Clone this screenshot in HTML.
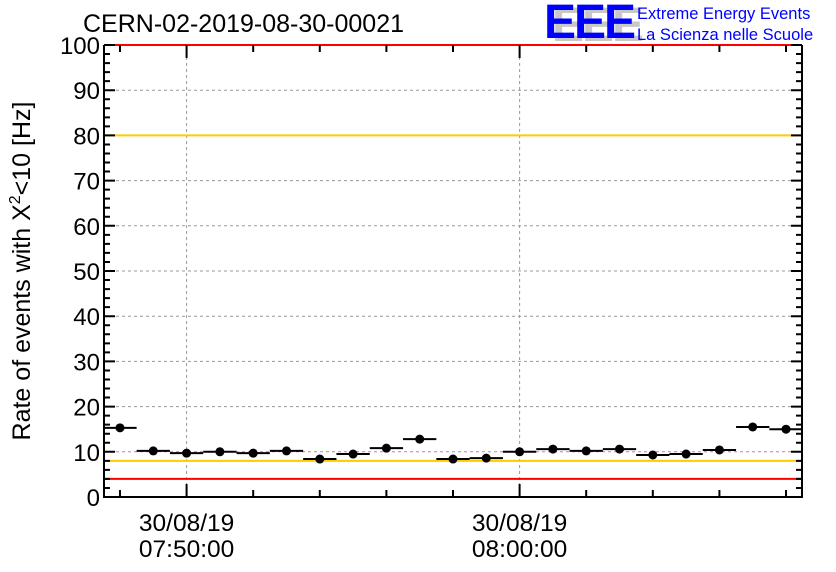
<!DOCTYPE html>
<html><head><meta charset="utf-8"><style>
body{margin:0;background:#fff;}
svg{display:block;font-family:"Liberation Sans",sans-serif;}
</style></head><body>
<svg id="c" width="836" height="572" viewBox="0 0 836 572">
<text x="83" y="32" font-size="25" fill="#000">CERN-02-2019-08-30-00021</text>
<g>
<text x="552" y="41" font-size="48" font-weight="bold" fill="#c8c8c8" letter-spacing="-2">EEE</text>
<text x="544" y="38" font-size="48" font-weight="bold" fill="#0000ff" letter-spacing="-2">EEE</text>
<text x="637" y="19" font-size="16.5" fill="#0000ff">Extreme Energy Events</text>
<text x="637" y="40" font-size="16.5" fill="#0000ff">La Scienza nelle Scuole</text>
</g>
<text transform="translate(30,271) rotate(-90)" text-anchor="middle" font-size="25" fill="#000">Rate of events with X<tspan dy="-10" font-size="16">2</tspan><tspan dy="10">&lt;10 [Hz]</tspan></text>
<g id="grid"></g><g id="lines"></g><g id="axes"></g><g id="marks"></g>
</svg>
<script>
const minutes=[48,49,50,51,52,53,54,55,56,57,58,59,60,61,62,63,64,65,66,67,68];
const rates=[15.3,10.2,9.7,10.0,9.7,10.2,8.4,9.5,10.8,12.8,8.4,8.6,10.0,10.6,10.2,10.6,9.3,9.5,10.4,15.5,15.0];
const yTicks=[0,10,20,30,40,50,60,70,80,90,100];
const xLabels=[{m:50,d:"30/08/19",t:"07:50:00"},{m:60,d:"30/08/19",t:"08:00:00"}];
const refLines=[{v:100,c:"#ff0000"},{v:80,c:"#ffcc00"},{v:8,c:"#ffcc00"},{v:4,c:"#ff0000"}];
const L=104,R=802,T=45,B=497;
const m0=47.52,m1=68.48;
const X=m=>L+(m-m0)/(m1-m0)*(R-L);
const Y=v=>B-v/100*(B-T);
const NS="http://www.w3.org/2000/svg";
function mk(p,tag,a){const e=document.createElementNS(NS,tag);for(const k in a)e.setAttribute(k,a[k]);p.appendChild(e);return e;}
const grid=document.getElementById('grid'),lines=document.getElementById('lines'),axes=document.getElementById('axes'),marks=document.getElementById('marks');
yTicks.forEach(v=>{if(v>0&&v<100){const g=mk(grid,'line',{x1:L,x2:R,y1:Y(v),y2:Y(v),stroke:'#999','stroke-dasharray':'3,3','stroke-width':1});

}
const t=mk(axes,'text',{x:L-4,y:Y(v)+9,'text-anchor':'end','font-size':24,fill:'#000'});t.textContent=v;

});
xLabels.forEach(o=>{const g=mk(grid,'line',{x1:X(o.m),x2:X(o.m),y1:T,y2:B,stroke:'#999','stroke-dasharray':'3,3','stroke-width':1});


const t1=mk(axes,'text',{x:X(o.m),y:531,'text-anchor':'middle','font-size':24.5,fill:'#000'});t1.textContent=o.d;


const t2=mk(axes,'text',{x:X(o.m),y:557,'text-anchor':'middle','font-size':24.5,fill:'#000'});t2.textContent=o.t;

});
refLines.forEach(r=>{const l=mk(lines,'line',{x1:L,x2:R,y1:Y(r.v),y2:Y(r.v),stroke:r.c,'stroke-width':2});

});
const fr=mk(axes,'path',{d:`M${L},${T}V${B}H${R}V${T}`,fill:'none',stroke:'#000','stroke-width':2});


let d='';
for(let v=0;v<=100;v+=2){const len=v%10===0?11:6;const y=Y(v);d+=`M${L},${y}h${len}M${R},${y}h${-len}`;}
for(let m=48;m<=68;m+=2){const len=(m===50||m===60)?13:7;const x=X(m);d+=`M${x},${B}v${-len}M${x},${T}v${len}`;}
const tk=mk(axes,'path',{d:d,stroke:'#000','stroke-width':2,fill:'none'});


minutes.forEach((m,i)=>{const y=Y(rates[i]);
const h=mk(marks,'line',{x1:X(m-0.5),x2:X(m+0.5),y1:y,y2:y,stroke:'#000','stroke-width':2});


const c=mk(marks,'circle',{cx:X(m),cy:y,r:4.5,fill:'#000'});

});
</script>
</body></html>
